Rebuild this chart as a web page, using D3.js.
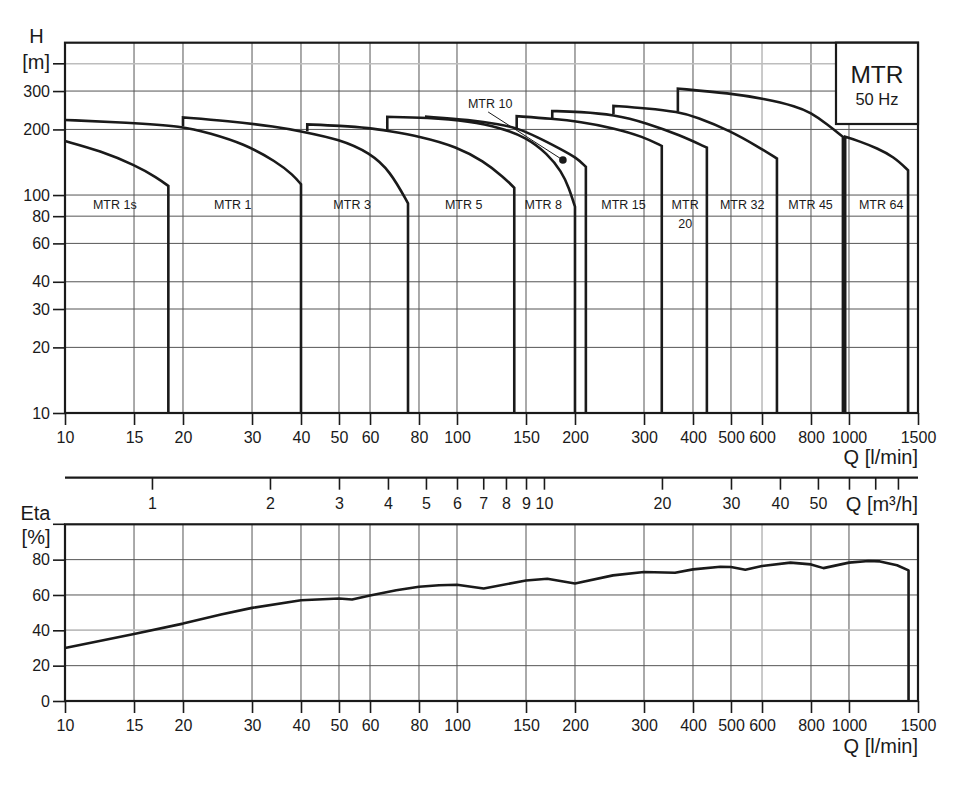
<!DOCTYPE html>
<html><head><meta charset="utf-8">
<script src="https://cdn.jsdelivr.net/npm/d3@7"></script>
<style>
body{margin:0;background:#fff}
text{font-family:Arial,"Liberation Sans",sans-serif;fill:#1a1a1a}
</style>
</head><body>
<svg id="c" width="968" height="788"></svg>
<script>
// ---------- data ----------
const qTicks   = [10,15,20,30,40,50,60,80,100,150,200,300,400,500,600,800,1000,1500];
const qGray    = [600];
const hTicks   = [10,20,30,40,60,80,100,200,300];
const hGray    = [400];
const etaTicks = [0,20,40,60,80];
const etaGray  = [40];
const m3hTicks  = [1,2,3,4,5,6,7,8,9,10,20,30,40,50,60,70,80];
const m3hLabels = [1,2,3,4,5,6,7,8,9,10,20,30,40,50];

// Q [l/min], H [m]
const mtr1s = [[10,177],[12.3,159.6],[15.1,137.1],[17.2,120],[18.35,110]];
const mtr1  = [[10,221],[14.4,215],[20,207],[23.4,192],[28.5,172.5],[34.7,142],[38.2,123.5],[40,112]];
const mtr3  = [[20,227],[25.9,219],[34.7,205.6],[40,196],[50.3,180],[60,156],[67.5,129],[75,91.6]];
const mtr5  = [[41.5,211],[50.3,208],[60,203],[66.4,197],[80.5,186],[100,166.5],[116.8,143],[131.4,121],[140,108]];
const mtr8  = [[66.4,228.5],[83.8,227],[108,218],[128.8,204],[150,184],[170,155],[185,128],[193,108],[200,88.4]];
const mtr10 = [[83.5,229],[108,221],[128.8,211],[142.1,203],[160,185],[183.4,163],[202.2,148],[213.2,134.8]];
const mtr15 = [[142,230],[175,224],[206,217],[251,203],[299,185],[333,168]];
const mtr20 = [[175,243],[206,241],[251,234],[305,214],[371,188],[434,165]];
const mtr32 = [[250.7,256.5],[305,250],[366,241],[409,228],[498,197],[582,168],[655,147]];
const mtr45 = [[366,308],[498,293],[605,277],[737,255],[797,239],[879,212],[965,185]];
const mtr64 = [[978,185],[1069,176],[1179,164],[1300,150],[1415,130]];
const pumpCurves = [mtr1s,mtr1,mtr3,mtr5,mtr8,mtr10,mtr15,mtr20,mtr32,mtr45,mtr64];
const stepFrom   = [null,null,207,196,195,227,202,224,235,241,10];

const regionNames = ["MTR 1s","MTR 1","MTR 3","MTR 5","MTR 8","MTR 15","MTR\n20","MTR 32","MTR 45","MTR 64"];
const regionQ     = [13.4,26.8,54,104,166,266,382,534,798,1208];

const mtr10Label = {q:121.5, h:249.6};
const mtr10Dot   = {q:186.3, h:144.7};

// efficiency [%]
const eta = [[10,30],[15,37.9],[20,43.8],[25,48.9],[30,52.7],[40,57],[50,58],[54,57.4],[60,59.7],[70,62.7],[80,64.7],[90,65.5],[100,65.8],[117,63.7],[150,68.2],[170,69.2],[200,66.5],[250,71.1],[300,73],[360,72.6],[400,74.5],[470,76],[500,75.8],[544,74.3],[600,76.4],[709,78.3],[800,77.3],[861,75.2],[1000,78.3],[1122,79.2],[1200,79.0],[1326,76.8],[1419,73.9]];

// ---------- layout ----------
const svg = d3.select("#c");
const xL = 65, xR = 918;
const x = d3.scaleLog().domain([10,1500]).range([xL,xR]);
const xm = d3.scaleLog().domain([0.6,90]).range([xL,xR]);
const yH = d3.scaleLog().domain([10,500]).range([413,42.7]);
const yE = d3.scaleLinear().domain([0,100]).range([701,524.3]);
const gridCol = "#555", grayCol = "#bdbdbd", ink = "#1a1a1a";
const FF = "Arial, Liberation Sans, sans-serif";

function panel(yScale, yTicks, yGrayTicks, y0, y1){
  const g = svg.append("g");
  g.selectAll(".vg").data(qTicks.filter(q=>q>10&&q<1500)).enter().append("line")
    .attr("x1",d=>x(d)).attr("x2",d=>x(d)).attr("y1",y0).attr("y2",y1)
    .attr("stroke",d=>qGray.includes(d)?grayCol:gridCol)
    .attr("stroke-width",d=>qGray.includes(d)?1.6:1);
  g.selectAll(".hg").data(yTicks.concat(yGrayTicks)).enter().append("line")
    .attr("x1",xL).attr("x2",xR).attr("y1",d=>yScale(d)).attr("y2",d=>yScale(d))
    .attr("stroke",d=>yGrayTicks.includes(d)?grayCol:gridCol)
    .attr("stroke-width",d=>yGrayTicks.includes(d)?1.6:1);
  const ax = d3.axisBottom(x).tickValues(qTicks).tickFormat(d3.format("d")).tickSize(12).tickPadding(7);
  const ga = g.append("g").attr("transform",`translate(0,${y1})`).call(ax);
  ga.select(".domain").remove();
  ga.selectAll(".tick line").attr("stroke",ink).attr("stroke-width",1.6);
  ga.selectAll(".tick text").attr("font-size",16).attr("font-family",FF).attr("fill","#222");
  const ay = d3.axisLeft(yScale).tickValues(yTicks).tickFormat(d3.format("d")).tickSize(12).tickPadding(3);
  const gy = g.append("g").attr("transform",`translate(${xL},0)`).call(ay);
  gy.select(".domain").remove();
  gy.selectAll(".tick line").attr("stroke",ink).attr("stroke-width",1.6);
  gy.selectAll(".tick text").attr("font-size",16).attr("font-family",FF).attr("fill","#222");
  g.append("rect").attr("x",xL).attr("y",y0).attr("width",xR-xL).attr("height",y1-y0)
    .attr("fill","none").attr("stroke",ink).attr("stroke-width",2.2);
  return g;
}

// ---------- top panel ----------
panel(yH, hTicks, hGray, yH(500), yH(10));
svg.append("line").attr("x1",xL-12).attr("x2",xL).attr("y1",yH(400)).attr("y2",yH(400)).attr("stroke",ink).attr("stroke-width",1.6);
svg.append("text").attr("x",50).attr("y",yH(400)+5).attr("text-anchor","end").attr("font-size",20).text("[m]");
svg.append("text").attr("x",36.5).attr("y",43).attr("text-anchor","middle").attr("font-size",20).text("H");

const line = d3.line().x(d=>x(d[0])).y(d=>yH(d[1])).curve(d3.curveBasis);
pumpCurves.forEach((pts,i)=>{
  let s = line(pts);
  if(stepFrom[i]!==null){
    s = `M${x(pts[0][0])},${yH(stepFrom[i])}L` + s.slice(1);
  }
  const last = pts[pts.length-1];
  s += `L${x(last[0])},${yH(10)}`;
  svg.append("path").attr("d",s).attr("fill","none").attr("stroke",ink)
    .attr("stroke-width",2.6).attr("stroke-linejoin","miter");
});

regionNames.forEach((n,i)=>{
  n.split("\n").forEach((p,j)=>{
    svg.append("text").attr("x",x(regionQ[i])).attr("y",yH(86.3)+j*19.5)
      .attr("text-anchor","middle").attr("font-size",12.5).text(p);
  });
});

// MTR 10 callout
svg.append("text").attr("x",x(mtr10Label.q)).attr("y",yH(mtr10Label.h)).attr("text-anchor","middle").attr("font-size",12.5).text("MTR 10");
svg.append("line").attr("x1",x(mtr10Label.q)-2).attr("y1",yH(mtr10Label.h)+3.5)
  .attr("x2",x(mtr10Dot.q)).attr("y2",yH(mtr10Dot.h)).attr("stroke",ink).attr("stroke-width",1);
svg.append("circle").attr("cx",x(mtr10Dot.q)).attr("cy",yH(mtr10Dot.h)).attr("r",3.8).attr("fill",ink);

// MTR box
svg.append("rect").attr("x",836).attr("y",yH(500)).attr("width",xR-836).attr("height",124-yH(500))
  .attr("fill","#fff").attr("stroke",ink).attr("stroke-width",2.2);
svg.append("text").attr("x",877).attr("y",83.3).attr("text-anchor","middle").attr("font-size",24.5).text("MTR");
svg.append("text").attr("x",877).attr("y",105).attr("text-anchor","middle").attr("font-size",16.5).text("50 Hz");

svg.append("text").attr("x",xR).attr("y",464).attr("text-anchor","end").attr("font-size",20).text("Q [l/min]");

// ---------- m3/h axis ----------
const ym = 477.7;
const am = d3.axisBottom(xm).tickValues(m3hTicks).tickSize(12).tickPadding(8)
  .tickFormat(d=>m3hLabels.includes(d)?d3.format("d")(d):"");
const gm = svg.append("g").attr("transform",`translate(0,${ym})`).call(am);
gm.select(".domain").remove();
gm.selectAll(".tick line").attr("stroke",ink).attr("stroke-width",1.6);
gm.selectAll(".tick text").attr("font-size",16).attr("font-family",FF).attr("fill","#222");
svg.append("line").attr("x1",xL).attr("x2",xR).attr("y1",ym).attr("y2",ym).attr("stroke",ink).attr("stroke-width",2.2);
svg.append("text").attr("x",xR).attr("y",511).attr("text-anchor","end").attr("font-size",20).text("Q [m³/h]");

// ---------- bottom panel ----------
panel(yE, etaTicks, etaGray, yE(100), yE(0));
svg.append("line").attr("x1",xL-12).attr("x2",xL).attr("y1",yE(100)).attr("y2",yE(100)).attr("stroke",ink).attr("stroke-width",1.6);
svg.append("text").attr("x",50.5).attr("y",520).attr("text-anchor","end").attr("font-size",20).text("Eta");
svg.append("text").attr("x",50.5).attr("y",544).attr("text-anchor","end").attr("font-size",20).text("[%]");
svg.append("text").attr("x",xR).attr("y",753).attr("text-anchor","end").attr("font-size",20).text("Q [l/min]");

const le = d3.line().x(d=>x(d[0])).y(d=>yE(d[1]));
const lastE = eta[eta.length-1];
svg.append("path").attr("d", le(eta) + `L${x(lastE[0])},${yE(0)}`)
  .attr("fill","none").attr("stroke",ink).attr("stroke-width",2.6).attr("stroke-linejoin","round");
</script>
</body></html>
